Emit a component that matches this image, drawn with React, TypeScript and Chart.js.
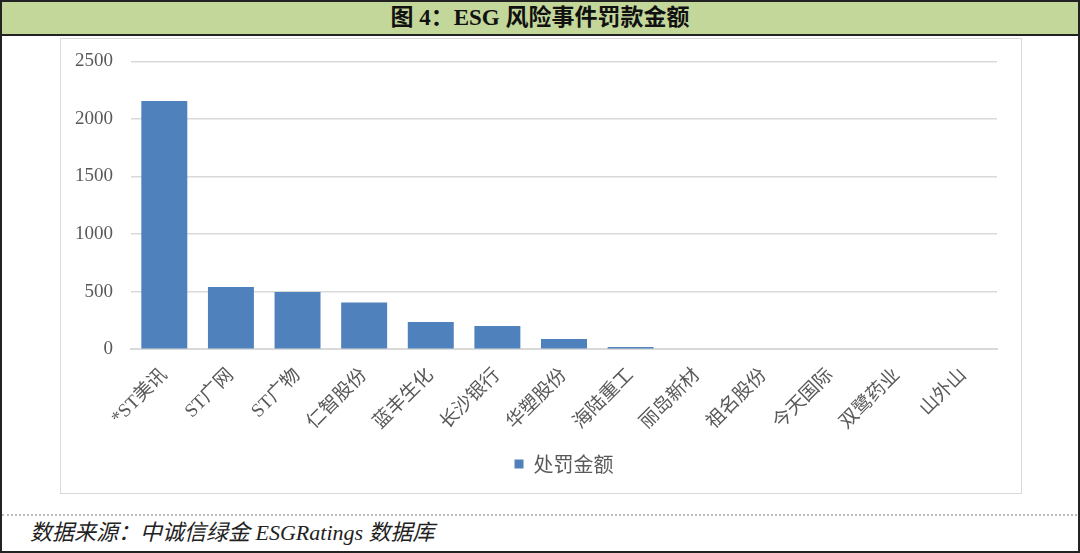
import React, { useEffect, useRef } from "react";
import { Chart, registerables } from "chart.js";

Chart.register(...registerables);

const categories = ["*ST美讯", "ST广网", "ST广物", "仁智股份", "蓝丰生化", "长沙银行", "华塑股份", "海陆重工", "丽岛新材", "祖名股份", "今天国际", "双鹭药业", "山外山"];
const fines = [2155, 540, 496, 405, 235, 200, 87, 18, 0, 0, 0, 0, 0];
const seriesName = "处罚金额";
const yTicks = [0, 500, 1000, 1500, 2000, 2500];
const titleText = "图 4：ESG 风险事件罚款金额";
const sourceText = "数据来源：中诚信绿金 ESGRatings 数据库";

export default function App() {
  const ref = useRef<HTMLCanvasElement | null>(null);
  useEffect(() => {
    document.body.style.margin = "0";
    if (!ref.current) return;
    const chart = new Chart(ref.current, {
      type: "bar",
      data: {
        labels: categories,
        datasets: [
          {
            label: seriesName,
            data: fines,
            backgroundColor: "#4f81bd",
            borderColor: "#4f81bd",
            categoryPercentage: 1,
            barPercentage: 0.69,
          },
        ],
      },
      options: {
        animation: false,
        responsive: false,
        maintainAspectRatio: false,
        layout: { padding: { left: 13, right: 24, top: 13, bottom: 28 } },
        plugins: {
          legend: {
            position: "bottom",
            fullSize: false,
            labels: {
              boxWidth: 9,
              boxHeight: 9,
              color: "#595959",
              font: { family: "'Noto Sans CJK SC'", size: 20 },
              padding: 5,
            },
          },
          tooltip: { enabled: false },
          title: { display: false },
        },
        scales: {
          x: {
            grid: { display: false, drawTicks: false },
            border: { color: "#d9d9d9", width: 2 },
            ticks: {
              minRotation: 45,
              maxRotation: 45,
              color: "#595959",
              font: { family: "'Liberation Serif', 'Noto Sans CJK SC'", size: 19 },
              padding: 15,
            },
          },
          y: {
            min: 0,
            max: 2500,
            afterBuildTicks: (axis: any) => {
              axis.ticks = yTicks.map((v) => ({ value: v }));
            },
            grid: { color: "#d9d9d9", lineWidth: 1.5, drawTicks: false },
            border: { display: false },
            ticks: {
              color: "#595959",
              font: { family: "'Liberation Serif'", size: 19 },
              padding: 18,
              callback: (v: any) => String(v),
            },
          },
        },
      },
    });
    return () => chart.destroy();
  }, []);

  return (
    <div style={{ position: "absolute", left: 0, top: 0, width: 1080, height: 553, background: "#fff", overflow: "hidden" }}>
      <div style={{ position: "absolute", left: 0, top: 0, width: 1076, height: 549, border: "2px solid #222" }} />
      <div
        style={{
          position: "absolute",
          left: 2,
          top: 2,
          width: 1076,
          height: 32,
          background: "#c4d79b",
          borderBottom: "2px solid #222",
          textAlign: "center",
          fontFamily: "'Liberation Serif', 'Noto Sans CJK SC'",
          fontWeight: "bold",
          fontSize: 23,
          lineHeight: "32px",
          color: "#111",
        }}
      >
        {titleText}
      </div>
      <div style={{ position: "absolute", left: 60, top: 38, width: 960, height: 454, border: "1px solid #d9d9d9" }} />
      <canvas
        ref={ref}
        width={977}
        height={480}
        style={{ display: "block", position: "absolute", left: 44, top: 32 }}
      />
      <div style={{ position: "absolute", left: 2, top: 514, width: 1075, borderTop: "2px dotted #bbb" }} />
      <div
        style={{
          position: "absolute",
          left: 30,
          top: 519,
          fontFamily: "'Liberation Serif', 'Noto Sans CJK SC'",
          fontStyle: "italic",
          fontSize: 22,
          lineHeight: "28px",
          color: "#222",
        }}
      >
        {sourceText}
      </div>
    </div>
  );
}
